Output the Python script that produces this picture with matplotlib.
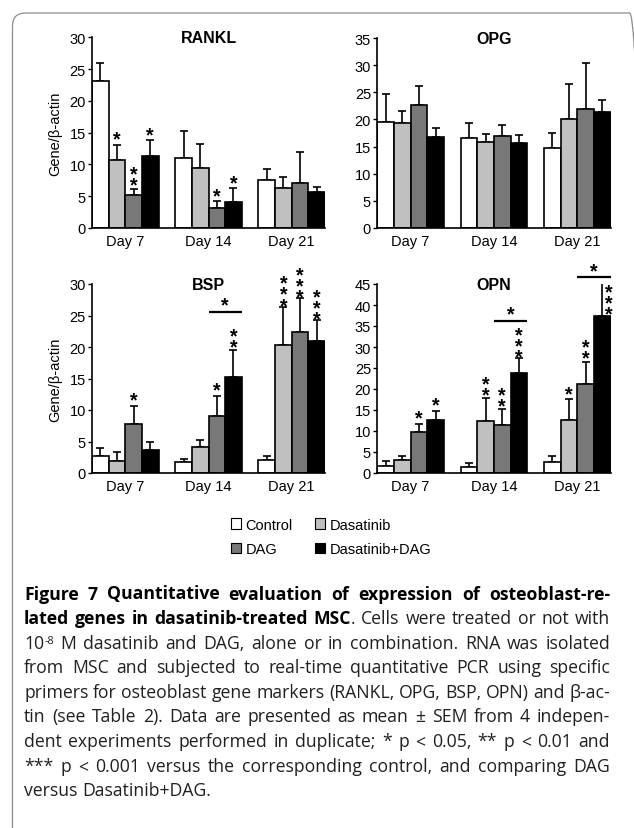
import matplotlib
matplotlib.use("Agg")
import matplotlib.pyplot as plt
from matplotlib.patches import Patch, FancyBboxPatch
from matplotlib.textpath import TextPath
from matplotlib.font_manager import FontProperties
import numpy as np

plt.rcParams["font.family"] = ["Liberation Sans", "DejaVu Sans"]

# ---- data ----
days = ["Day 7", "Day 14", "Day 21"]
treatments = ["Control", "Dasatinib", "DAG", "Dasatinib+DAG"]
bar_colors = ["#ffffff", "#c0c0c0", "#787878", "#000000"]

# rows = days, columns = treatments
rankl_mean = np.array([[23.2, 10.7, 5.2, 11.3], [11.0, 9.4, 3.1, 4.1], [7.6, 6.3, 7.1, 5.6]])
rankl_sem = np.array([[2.7, 2.4, 1.0, 2.5], [4.2, 3.8, 1.1, 2.2], [1.7, 1.8, 4.9, 0.9]])
opg_mean = np.array([[19.6, 19.4, 22.7, 16.8], [16.6, 15.8, 16.9, 15.7], [14.7, 20.1, 21.9, 21.3]])
opg_sem = np.array([[5.0, 2.1, 3.5, 1.6], [2.8, 1.6, 2.1, 1.4], [2.8, 6.4, 8.5, 2.3]])
bsp_mean = np.array([[2.75, 1.9, 7.8, 3.7], [1.7, 4.1, 9.1, 15.3], [2.0, 20.3, 22.4, 20.9]])
bsp_sem = np.array([[1.25, 1.4, 2.9, 1.2], [0.5, 1.2, 3.2, 4.2], [0.75, 6.1, 5.3, 3.4]])
opn_mean = np.array([[1.75, 3.1, 9.7, 12.6], [1.35, 12.5, 11.4, 23.9], [2.7, 12.6, 21.2, 37.4]])
opn_sem = np.array([[1.15, 0.9, 2.0, 2.2], [1.15, 5.4, 3.8, 3.4], [1.3, 5.0, 5.3, 8.0]])

# significance marks: (day index, treatment index, number of stars)
rankl_stars = [(0, 1, 1), (0, 2, 2), (0, 3, 1), (1, 2, 1), (1, 3, 1)]
opg_stars = []
bsp_stars = [(0, 2, 1), (1, 2, 1), (1, 3, 2), (2, 1, 3), (2, 2, 3), (2, 3, 3)]
opn_stars = [(0, 2, 1), (0, 3, 1), (1, 1, 2), (1, 2, 2), (1, 3, 3), (2, 1, 1), (2, 2, 2)]
# DAG vs Dasatinib+DAG comparisons: (day index, bracket height)
bsp_brackets = [(1, 25.6)]
opn_brackets = [(1, 36.3), (2, 46.6)]

caption_lines = [
    [("Figure 7 Quantitative evaluation of expression of osteoblast-re-", "b")],
    [("lated genes in dasatinib-treated MSC", "b"), (". Cells were treated or not with", "r")],
    [("10", "r"), ("-8", "s"), (" M dasatinib and DAG, alone or in combination. RNA was isolated", "r")],
    [("from MSC and subjected to real-time quantitative PCR using specific", "r")],
    [("primers for osteoblast gene markers (RANKL, OPG, BSP, OPN) and \u03b2-ac-", "r")],
    [("tin (see Table 2). Data are presented as mean \u00b1 SEM from 4 indepen-", "r")],
    [("dent experiments performed in duplicate; * p < 0.05, ** p < 0.01 and", "r")],
    [("*** p < 0.001 versus the corresponding control, and comparing DAG", "r")],
    [("versus Dasatinib+DAG.", "r")],
]

W, H = 634, 829
fig = plt.figure(figsize=(W / 100, H / 100), dpi=100)
renderer = fig.canvas.get_renderer()

# rounded frame around the figure
frame = FancyBboxPatch((0.125, -0.2), 6.3, 8.35, boxstyle="round,pad=0,rounding_size=0.13",
                       transform=fig.dpi_scale_trans, facecolor="none", edgecolor="#8c8c8c",
                       linewidth=0.9)
fig.patches.append(frame)

# asterisk size / ink position, so stacked stars can be centred where wanted
_fp = FontProperties(family="Liberation Sans", weight="bold")
_ext = TextPath((0, 0), "*", size=15, prop=_fp).get_extents()
star_size = 15 * 5.3 / _ext.height
star_mid = (_ext.y0 + _ext.y1) / 2 * star_size / 15
# measure the real line step of a stacked text (points, at linespacing 1)
_t1 = fig.text(0, 0, "*", fontsize=star_size, fontweight="bold")
_t2 = fig.text(0, 0, "*\n*", fontsize=star_size, fontweight="bold", linespacing=1.0)
line_step1 = (_t2.get_window_extent(renderer).height
              - _t1.get_window_extent(renderer).height) * 72 / fig.dpi
_t1.remove()
_t2.remove()
star_step = 6.4


def px_axes(left, top, right, bottom):
    return fig.add_axes([left / W, 1 - bottom / H, (right - left) / W, (bottom - top) / H])


def add_stars(ax, x, y, n, gap=4.3, dx=0.0):
    # one text per stack; top star centre at gap + step*(n-1) points above y
    top_centre = gap + star_step * (n - 1)
    ax.annotate("\n".join(["*"] * n), xy=(x + dx, y),
                xytext=(0, top_centre + line_step1 - star_mid), textcoords="offset points",
                ha="center", va="top", fontsize=star_size, fontweight="bold",
                linespacing=star_step / line_step1, annotation_clip=False)


def draw_panel(ax, title, mean, sem, ymax, stars, brackets):
    xc = np.arange(len(days)) * 5
    for i, col in enumerate(bar_colors):
        pos = xc + i - 1.5
        ax.bar(pos, mean[:, i], width=1, color=col, edgecolor="black", linewidth=1.2, zorder=2)
        ax.errorbar(pos, mean[:, i], yerr=[np.zeros(len(days)), sem[:, i]], fmt="none",
                    ecolor="black", elinewidth=1.2, capsize=3, capthick=1.2, zorder=1)
    for d, i, n in stars:
        add_stars(ax, xc[d] + i - 1.5, mean[d, i] + sem[d, i], n)
    for d, y in brackets:
        x0, x1 = xc[d], xc[d] + 2
        ax.plot([x0, x1], [y, y], color="black", lw=1.6, clip_on=False, solid_capstyle="butt")
        add_stars(ax, (x0 + x1) / 2, y, 1, gap=5.0)
    ax.set_xlim(-2, 12)
    ax.set_ylim(0, ymax)
    ax.set_yticks(np.arange(0, ymax + 1, 5))
    ax.set_xticks(xc)
    ax.set_xticklabels(days)
    for s in ["top", "right"]:
        ax.spines[s].set_visible(False)
    for s in ["left", "bottom"]:
        ax.spines[s].set_linewidth(1.2)
    ax.tick_params(axis="y", length=3, width=1, labelsize=10.5, pad=1.5)
    ax.tick_params(axis="x", length=0, labelsize=10.5, pad=4)
    ax.text(0.5, 1.0, title, transform=ax.transAxes, ha="center", va="center",
            fontsize=11.5, fontweight="bold")


ax1 = px_axes(92, 38.3, 325, 229)
draw_panel(ax1, "RANKL", rankl_mean, rankl_sem, 30, rankl_stars, [])
ax2 = px_axes(377.3, 39, 610.5, 229)
draw_panel(ax2, "OPG", opg_mean, opg_sem, 35, opg_stars, [])
ax3 = px_axes(92, 285, 325, 474)
draw_panel(ax3, "BSP", bsp_mean, bsp_sem, 30, bsp_stars, bsp_brackets)
ax4 = px_axes(377.3, 285, 610.5, 474)
draw_panel(ax4, "OPN", opn_mean, opn_sem, 45, opn_stars, opn_brackets)
# the Dasatinib+DAG stars at Day 21 sit beside the error bar
add_stars(ax4, 10 + 1.5, 39.0, 3, gap=0.0, dx=0.42)

for ycen in [133.5, 379.5]:
    fig.text(55 / W, 1 - ycen / H, "Gene/\u03b2-actin", rotation=90, ha="center",
             va="center", fontsize=10.5)

handles = [Patch(facecolor=c, edgecolor="black", linewidth=0.8) for c in bar_colors]
order = [0, 2, 1, 3]
fig.legend([handles[i] for i in order], [treatments[i] for i in order], ncol=2,
           loc="center", bbox_to_anchor=(331 / W, 1 - 538 / H), frameon=False,
           fontsize=10.5, handlelength=0.7, handleheight=0.7, handletextpad=0.3,
           columnspacing=1.5, labelspacing=0.75, borderpad=0)

# ---- caption, justified line by line ----
cap_color = "#231f20"
cap_font = ["Open Sans", "DejaVu Sans"]
x_left, x_right = 24, 610


def make_run(text, style, size):
    kw = dict(fontsize=size, family=cap_font, color=cap_color, va="baseline")
    if style == "b":
        kw["fontweight"] = "bold"
        kw["color"] = "black"
    if style == "s":
        kw["fontsize"] = size * 0.62
    return fig.text(0, 0, text, **kw)


def split_words(segs):
    words = [[]]
    for text, style in segs:
        parts = text.split(" ")
        for j, p in enumerate(parts):
            if j > 0:
                words.append([])
            if p:
                words[-1].append((p, style))
    return [w for w in words if w]


def measure_words(words, size, keep):
    placed, widths = [], []
    for w in words:
        runs, total = [], 0
        for text, style in w:
            t = make_run(text, style, size)
            tw = t.get_window_extent(renderer).width
            runs.append((t, tw, style))
            total += tw
            if not keep:
                t.remove()
        placed.append(runs)
        widths.append(total)
    return placed, widths


def space_width(size):
    a = make_run("a a", "r", size)
    b = make_run("aa", "r", size)
    sw = a.get_window_extent(renderer).width - b.get_window_extent(renderer).width
    a.remove()
    b.remove()
    return sw


# pick the size at which the widest line just fits with normal spaces
base_size = 11.0
sw0 = space_width(base_size)
natural = []
for segs in caption_lines[:-1]:
    words = split_words(segs)
    _, widths = measure_words(words, base_size, keep=False)
    natural.append(sum(widths) + sw0 * (len(words) - 1))
cap_size = base_size * (x_right - x_left) / max(natural)
sw = space_width(cap_size)

for li, segs in enumerate(caption_lines):
    words = split_words(segs)
    placed, widths = measure_words(words, cap_size, keep=True)
    if li < len(caption_lines) - 1:
        gap = (x_right - x_left - sum(widths)) / (len(words) - 1)
    else:
        gap = sw
    base = 599.5 + li * 24.6
    x = x_left
    for runs, tw in zip(placed, widths):
        for t, rw, style in runs:
            yb = base - 5 if style == "s" else base
            t.set_position((x / W, 1 - yb / H))
            x += rw
        x += gap

fig.savefig("out.png", dpi=100)
